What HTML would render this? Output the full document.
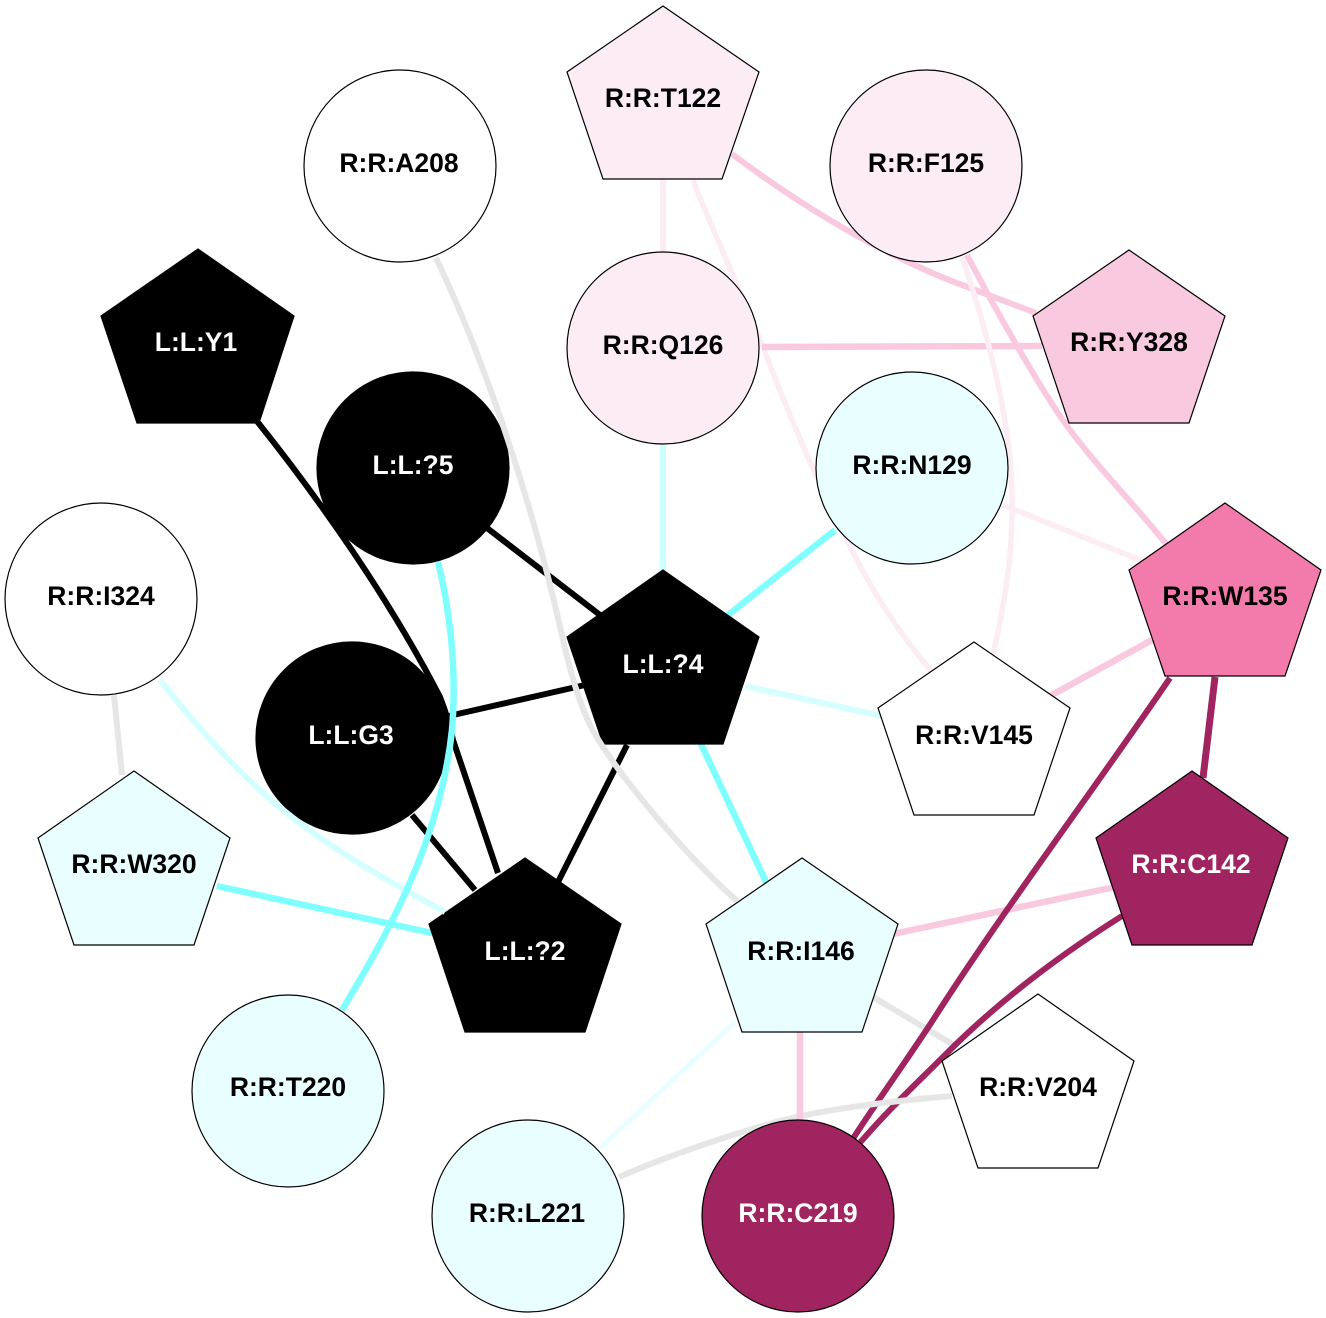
<!DOCTYPE html>
<html><head><meta charset="utf-8"><style>
html,body{margin:0;padding:0;background:#fff}
svg{display:block}
text{font-family:"Liberation Sans",sans-serif;font-weight:bold;font-size:26.5px;text-anchor:middle}
.n{stroke:#000;stroke-width:1.2}
path{fill:none}
</style></head><body>
<svg width="1326" height="1318" viewBox="0 0 1326 1318" xmlns="http://www.w3.org/2000/svg">
<rect width="1326" height="1318" fill="#fff"/>
<g stroke-linecap="butt">
<path d="M663 179V252" stroke="#fcedf4" stroke-width="6"/>
<path d="M693 180C710 225 745 300 763 347C785 405 820 490 857 560C880 605 905 640 932 672" stroke="#fcedf4" stroke-width="5.5"/>
<path d="M732 154C800 205 880 255 970 288L1036 313" stroke="#f9c9df" stroke-width="6"/>
<path d="M762 347L1042 346" stroke="#f9c9df" stroke-width="6.5"/>
<path d="M962 257C985 325 1012 420 1012 500C1013 560 1003 610 993 655" stroke="#fcedf4" stroke-width="5.5"/>
<path d="M967 255C985 290 1040 390 1070 430C1100 470 1135 505 1167 545" stroke="#f9c9df" stroke-width="6"/>
<path d="M1003 505L1150 564" stroke="#fcedf4" stroke-width="5.5"/>
<path d="M663 445V572" stroke="#ccffff" stroke-width="6"/>
<path d="M835 530L728 615" stroke="#80ffff" stroke-width="6.5"/>
<path d="M745 686L882 716" stroke="#d5ffff" stroke-width="6"/>
<path d="M700 742L767 884" stroke="#80ffff" stroke-width="6.5"/>
<path d="M1152 640L1050 696" stroke="#f9c9df" stroke-width="6.5"/>
<path d="M1215 677L1203 778" stroke="#a0245f" stroke-width="7"/>
<path d="M873 997L957 1047" stroke="#e6e6e6" stroke-width="6"/>
<path d="M1115 887L893 934" stroke="#f9c9df" stroke-width="6.5"/>
<path d="M1170 678C1090 795 1000 915 933 1020C905 1063 878 1100 852 1140" stroke="#a0245f" stroke-width="6"/>
<path d="M1122 916C1060 955 1000 1000 947 1053C915 1085 888 1110 858 1145" stroke="#a0245f" stroke-width="6"/>
<path d="M952 1096C880 1102 820 1110 776 1122C720 1138 670 1155 619 1177" stroke="#e6e6e6" stroke-width="6"/>
<path d="M800 1032V1125" stroke="#f9c9df" stroke-width="6.5"/>
<path d="M735 1022L600 1148" stroke="#e9ffff" stroke-width="5"/>
<path d="M256 420C320 500 390 600 440 697C445 710 450 725 453 740L498 873" stroke="#000" stroke-width="6"/>
<path d="M487 528L600 615" stroke="#000" stroke-width="6"/>
<path d="M440 718L585 685" stroke="#000" stroke-width="6"/>
<path d="M412 815L475 890" stroke="#000" stroke-width="6"/>
<path d="M627 745L558 882" stroke="#000" stroke-width="6"/>
<path d="M114 695L122 775" stroke="#e6e6e6" stroke-width="6"/>
<path d="M217 886L432 933" stroke="#80ffff" stroke-width="6.5"/>
</g>
<polygon class="n" fill="#fcedf4" points="663,6 759,72 722,179 603,179 567,72"/>
<circle class="n" fill="#fff" cx="400" cy="166" r="96"/>
<circle class="n" fill="#fcedf4" cx="926" cy="166" r="96"/>
<circle class="n" fill="#fcedf4" cx="663" cy="348" r="96"/>
<polygon class="n" fill="#000" points="198,249 294,316 259,423 137,423 101,316"/>
<polygon class="n" fill="#f9c9df" points="1129,250 1225,316 1189,423 1069,423 1033,316"/>
<circle class="n" fill="#000" cx="413" cy="468" r="96"/>
<circle class="n" fill="#e9ffff" cx="912" cy="468" r="96"/>
<circle class="n" fill="#fff" cx="101" cy="599" r="96"/>
<polygon class="n" fill="#f27bac" points="1225,503 1321,570 1285,676 1165,676 1129,570"/>
<polygon class="n" fill="#000" points="663,570 759,637 723,744 603,744 567,637"/>
<polygon class="n" fill="#fff" points="974,642 1070,708 1034,815 914,815 878,708"/>
<circle class="n" fill="#000" cx="352" cy="738" r="96"/>
<polygon class="n" fill="#a0245f" points="1192,771 1288,838 1252,945 1132,945 1096,838"/>
<polygon class="n" fill="#e9ffff" points="134,771 230,838 194,945 74,945 38,838"/>
<polygon class="n" fill="#000" points="525,858 621,924 585,1032 465,1032 429,924"/>
<polygon class="n" fill="#e9ffff" points="802,858 898,924 862,1032 742,1032 706,924"/>
<polygon class="n" fill="#fff" points="1038,994 1134,1061 1098,1168 978,1168 942,1061"/>
<circle class="n" fill="#e9ffff" cx="288" cy="1091" r="96"/>
<circle class="n" fill="#e9ffff" cx="528" cy="1216" r="96"/>
<circle class="n" fill="#a0245f" cx="798" cy="1216" r="96"/>
<path d="M160 680C195 725 240 775 283 810C320 840 365 868 400 887C415 895 430 904 445 912" stroke="#d5ffff" stroke-width="6"/>
<path d="M436 258C480 350 530 490 563 640C570 670 578 700 590 725C610 765 680 850 737 901" stroke="#e6e6e6" stroke-width="6"/>
<path d="M342 1010C390 930 440 840 452 730C457 670 450 610 438 562" stroke="#80ffff" stroke-width="6.5"/>
<text x="663" y="107">R:R:T122</text>
<text x="399" y="172">R:R:A208</text>
<text x="926" y="172">R:R:F125</text>
<text x="663" y="354">R:R:Q126</text>
<text x="196" y="351" fill="#fff">L:L:Y1</text>
<text x="1129" y="351">R:R:Y328</text>
<text x="413" y="474" fill="#fff">L:L:?5</text>
<text x="912" y="474">R:R:N129</text>
<text x="101" y="605">R:R:I324</text>
<text x="1225" y="605">R:R:W135</text>
<text x="663" y="673" fill="#fff">L:L:?4</text>
<text x="974" y="744">R:R:V145</text>
<text x="351" y="744" fill="#fff">L:L:G3</text>
<text x="1191" y="873" fill="#fff">R:R:C142</text>
<text x="134" y="873">R:R:W320</text>
<text x="525" y="960" fill="#fff">L:L:?2</text>
<text x="801" y="960">R:R:I146</text>
<text x="1038" y="1096">R:R:V204</text>
<text x="288" y="1096">R:R:T220</text>
<text x="527" y="1222">R:R:L221</text>
<text x="798" y="1222" fill="#fff">R:R:C219</text>
</svg>
</body></html>
